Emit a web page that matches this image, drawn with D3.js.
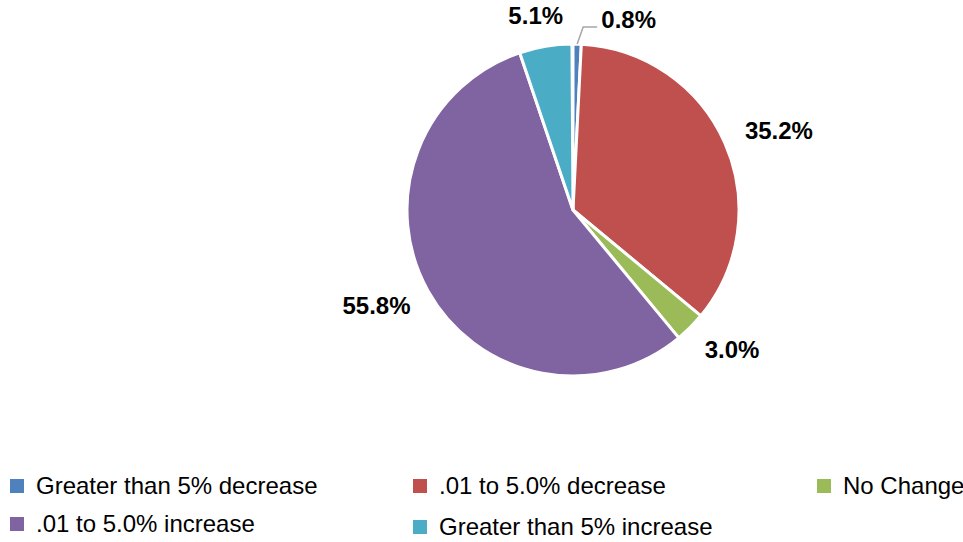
<!DOCTYPE html>
<html>
<head>
<meta charset="utf-8">
<script src="https://cdn.jsdelivr.net/npm/d3@7"></script>
<style>
  html, body { margin: 0; padding: 0; background: #fff; }
  svg { display: block; }
  text { font-family: "Liberation Sans", Arial, sans-serif; }
</style>
</head>
<body>
<svg id="chart" width="963" height="542"></svg>
<script>
// Share of records by size of change
const categories = [
  "Greater than 5% decrease",
  ".01 to 5.0% decrease",
  "No Change",
  ".01 to 5.0% increase",
  "Greater than 5% increase"
];
const values = [0.8, 35.2, 3.0, 55.8, 5.1];
const colors = ["#4F81BD", "#C0504D", "#9BBB59", "#8064A2", "#4BACC6"];

const data = categories.map((c, i) => ({ name: c, value: values[i], color: colors[i] }));

const width = 963, height = 542;
const cx = 573, cy = 210, radius = 166;

const svg = d3.select("#chart");
const g = svg.append("g").attr("transform", `translate(${cx},${cy})`);

const total = d3.sum(values);
const pie = d3.pie().value(d => d.value).sort(null)
  .endAngle(2 * Math.PI * total / 100);
const arcs = pie(data);

const arc = d3.arc().innerRadius(0).outerRadius(radius);

g.selectAll("path.slice")
  .data(arcs)
  .enter().append("path")
  .attr("class", "slice")
  .attr("d", arc)
  .attr("fill", d => d.data.color)
  .attr("stroke", "#fff")
  .attr("stroke-width", 3)
  .attr("stroke-linejoin", "round");

// Data labels placed on an ellipse outside the pie
const rx = 225, ry = 197;
arcs.forEach(d => {
  const a = (d.startAngle + d.endAngle) / 2;
  let x = rx * Math.sin(a), y = -ry * Math.cos(a);
  const small = d.data.value < 2;
  if (small) {
    // thin slice: move the label aside and connect it with a leader line
    x += 50;
    y = -191;
    const px = radius * Math.sin(a), py = -radius * Math.cos(a);
    g.append("polyline")
      .attr("points", [[px, py], [px + 6, py - 17], [px + 20, py - 17]].map(p => p.join(",")).join(" "))
      .attr("fill", "none")
      .attr("stroke", "#a6a6a6")
      .attr("stroke-width", 1.5);
  }
  g.append("text")
    .attr("x", x)
    .attr("y", y)
    .attr("text-anchor", "middle")
    .attr("dominant-baseline", "central")
    .attr("font-size", 24)
    .attr("font-weight", "bold")
    .attr("fill", "#000")
    .text(d3.format(".1f")(d.data.value) + "%");
});

// Legend
const legendPos = [
  { x: 10, y: 479 }, { x: 413, y: 479 }, { x: 817, y: 479 },
  { x: 10, y: 517 }, { x: 413, y: 520 }
];
const legend = svg.append("g");
data.forEach((d, i) => {
  const p = legendPos[i];
  legend.append("rect")
    .attr("x", p.x).attr("y", p.y)
    .attr("width", 14).attr("height", 14)
    .attr("fill", d.color);
  legend.append("text")
    .attr("x", p.x + 26)
    .attr("y", p.y + 15)
    .attr("font-size", 24)
    .attr("fill", "#000")
    .text(d.name);
});
</script>
</body>
</html>
